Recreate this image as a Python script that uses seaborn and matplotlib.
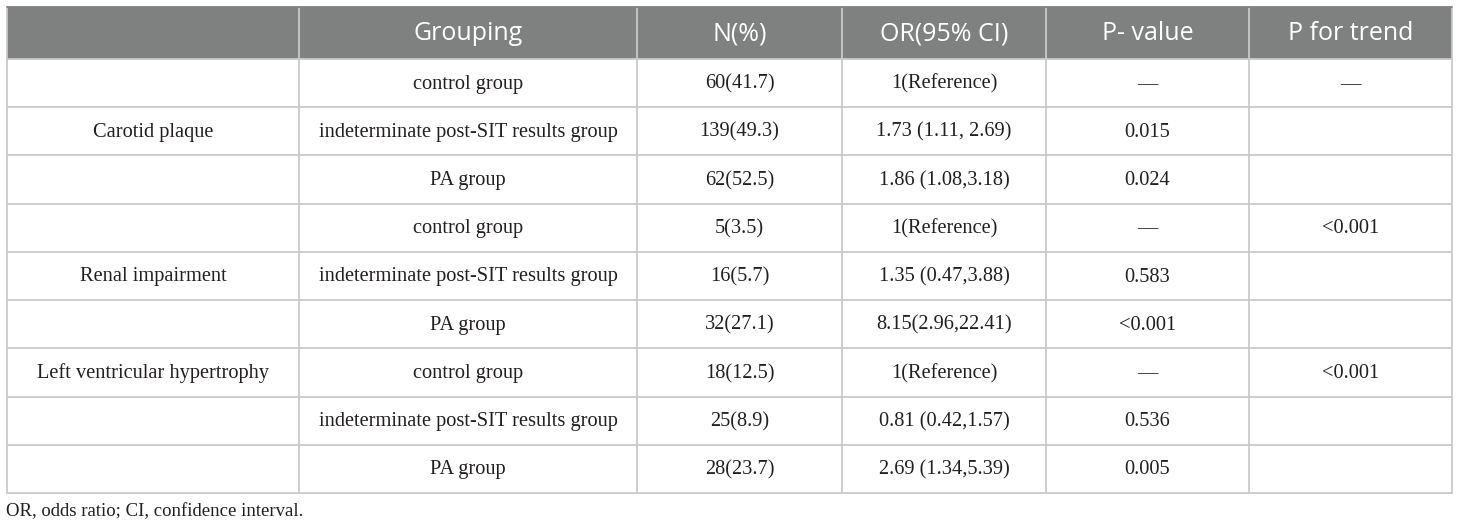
import matplotlib
matplotlib.use("Agg")
import matplotlib.pyplot as plt
import seaborn as sns

# donnees du tableau
headers = ["", "Grouping", "N(%)", "OR(95% CI)", "P- value", "P for trend"]
outcomes = ["Carotid plaque", "Renal impairment", "Left ventricular hypertrophy"]
outcome_rows = [1, 4, 6]   # ligne ou le libelle est place
groups = ["control group", "indeterminate post-SIT results group", "PA group"] * 3
n_pct = ["60(41.7)", "139(49.3)", "62(52.5)",
         "5(3.5)", "16(5.7)", "32(27.1)",
         "18(12.5)", "25(8.9)", "28(23.7)"]
or_ci = ["1(Reference)", "1.73 (1.11, 2.69)", "1.86 (1.08,3.18)",
         "1(Reference)", "1.35 (0.47,3.88)", "8.15(2.96,22.41)",
         "1(Reference)", "0.81 (0.42,1.57)", "2.69 (1.34,5.39)"]
p_value = ["\u2014", "0.015", "0.024",
           "\u2014", "0.583", "<0.001",
           "\u2014", "0.536", "0.005"]
p_trend = ["\u2014", "", "",
           "<0.001", "", "",
           "<0.001", "", ""]
footnote = "OR, odds ratio; CI, confidence interval."

sns.set_theme(style="white")

W, H = 1460, 529
fig = plt.figure(figsize=(W / 100, H / 100), dpi=100)
ax = fig.add_axes([0, 0, 1, 1])
ax.set_xlim(0, W)
ax.set_ylim(H, 0)
ax.axis("off")

# mise en page (pixels)
col_x = [7, 299, 637, 842, 1046, 1249, 1452]
top, head_bot, bot = 7, 59, 493
nrows = len(groups)
row_h = (bot - head_bot) / nrows
row_y = [head_bot + i * row_h for i in range(nrows + 1)]

grid_col = "#c9c9c9"
head_col = "#7f8080"
txt_col = "#231f20"
serif = ["Liberation Serif", "DejaVu Serif"]
sans = ["Open Sans", "DejaVu Sans"]

# en-tete
ax.add_patch(plt.Rectangle((col_x[0], top), col_x[-1] - col_x[0], head_bot - top,
                           color=head_col, lw=0))
for j, h in enumerate(headers):
    cx = (col_x[j] + col_x[j + 1]) / 2
    ax.text(cx, (top + head_bot) / 2 + 1, h, ha="center", va="center",
            color="white", fontsize=18, family=sans)

# lignes de la grille
for y in row_y:
    ax.plot([col_x[0], col_x[-1]], [y, y], color=grid_col, lw=1.3)
for x in col_x:
    ax.plot([x, x], [top, bot], color=grid_col, lw=1.3)
ax.plot([col_x[0], col_x[-1]], [top, top], color=head_col, lw=1.3)

# cellules
columns = [groups, n_pct, or_ci, p_value, p_trend]
for i in range(nrows):
    cy = (row_y[i] + row_y[i + 1]) / 2 + 1
    for j, values in enumerate(columns):
        cx = (col_x[j + 1] + col_x[j + 2]) / 2
        ax.text(cx, cy, values[i], ha="center", va="center",
                color=txt_col, fontsize=14.7, family=serif)

for lab, r in zip(outcomes, outcome_rows):
    cy = (row_y[r] + row_y[r + 1]) / 2 + 1
    ax.text((col_x[0] + col_x[1]) / 2, cy, lab, ha="center", va="center",
            color=txt_col, fontsize=14.7, family=serif)

ax.text(col_x[0] - 1, 512, footnote, ha="left", va="center",
        color=txt_col, fontsize=13.5, family=serif)

fig.savefig("out.png", dpi=100)
